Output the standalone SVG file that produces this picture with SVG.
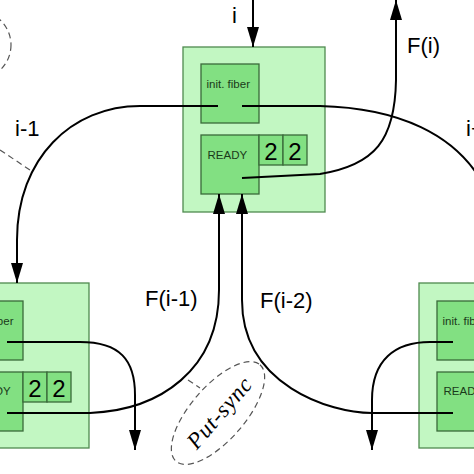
<svg xmlns="http://www.w3.org/2000/svg" width="474" height="474" viewBox="0 0 474 474">
<defs>
<style>
.outer{fill:#c2f7c2;stroke:#4f8a4f;stroke-width:1.3}
.inner{fill:#82e082;stroke:#3a6a3a;stroke-width:1.3}
.cell{fill:#82e082;stroke:#3a6a3a;stroke-width:1.3}
.lbl{font-family:"Liberation Sans",Arial,sans-serif;font-size:11.5px;fill:#1a3a1a}
.dig{font-family:"Liberation Sans",Arial,sans-serif;font-size:24px;fill:#000}
.big{font-family:"Liberation Sans",Arial,sans-serif;font-size:22px;fill:#000}
.conn{fill:none;stroke:#000;stroke-width:2}
.dash{fill:none;stroke:#555;stroke-width:1.2;stroke-dasharray:6,4}
</style>
<marker id="ah" markerUnits="userSpaceOnUse" markerWidth="20" markerHeight="12" refX="20" refY="6" orient="auto">
<path d="M0,0 L20,6 L0,12 z" fill="#000"/>
</marker>
</defs>
<rect width="474" height="474" fill="#fff"/>

<g id="node-center">
<rect class="outer" x="183" y="47" width="142" height="165"/>
<rect class="inner" x="201" y="64" width="58" height="59"/>
<text class="lbl" x="206.5" y="88">init. fiber</text>
<rect class="inner" x="201" y="135" width="58" height="59"/>
<text class="lbl" x="207.5" y="159">READY</text>
<rect class="cell" x="259" y="135" width="24" height="30"/>
<rect class="cell" x="283" y="135" width="24" height="30"/>
<text class="dig" x="271" y="159.5" text-anchor="middle">2</text>
<text class="dig" x="295" y="159.5" text-anchor="middle">2</text>
</g>

<g id="node-left">
<rect class="outer" x="-53" y="283" width="142" height="165"/>
<rect class="inner" x="-35" y="301" width="58" height="59"/>
<text class="lbl" x="-30" y="325">init. fiber</text>
<rect class="inner" x="-35" y="372" width="58" height="59"/>
<text class="lbl" x="-29" y="395">READY</text>
<rect class="cell" x="23" y="372" width="24" height="30"/>
<rect class="cell" x="47" y="372" width="24" height="30"/>
<text class="dig" x="35" y="396.5" text-anchor="middle">2</text>
<text class="dig" x="59" y="396.5" text-anchor="middle">2</text>
</g>

<g id="node-right">
<rect class="outer" x="419" y="283" width="142" height="165"/>
<rect class="inner" x="437" y="301" width="58" height="59"/>
<text class="lbl" x="442.5" y="325">init. fiber</text>
<rect class="inner" x="437" y="372" width="58" height="59"/>
<text class="lbl" x="443.5" y="395">READY</text>
</g>

<g id="connectors">
<path class="conn" d="M253,0 L253,47" marker-end="url(#ah)"/>
<path class="conn" d="M218,106 L140,106 C72,106 17,158 17,240 L17,283" marker-end="url(#ah)"/>
<path class="conn" d="M242,106 L320,106 C400,108 455,135 482,182"/>
<path class="conn" d="M242,178 L320,174 C375,165 395,140 396,80 L396,0" marker-end="url(#ah)"/>
<path class="conn" d="M7,413 L90,413 C160,410 219,370 219,290 L219,194" marker-end="url(#ah)"/>
<path class="conn" d="M453,413 L372,413 C330,413 242,385 242,300 L242,194" marker-end="url(#ah)"/>
<path class="conn" d="M7,342 L80,342 C120,342 135,360 135,395 L135,450" marker-end="url(#ah)"/>
<path class="conn" d="M453,342 L430,342 C395,342 372,360 372,400 L372,450" marker-end="url(#ah)"/>
</g>

<g id="labels">
<text class="big" x="232" y="23">i</text>
<text class="big" x="15" y="136">i-1</text>
<text class="big" x="466" y="136">i+1</text>
<text class="big" x="407" y="53">F(i)</text>
<text class="big" x="145" y="306">F(i-1)</text>
<text class="big" x="260" y="308">F(i-2)</text>
</g>

<g id="annotations">
<ellipse class="dash" cx="-25" cy="45" rx="36" ry="35"/>
<line class="dash" x1="0" y1="150" x2="30" y2="170"/>
<ellipse class="dash" cx="218" cy="413" rx="64" ry="27" transform="rotate(-49 218 413)"/>
<line class="dash" x1="188" y1="380" x2="200" y2="388"/>
<text x="225" y="418" text-anchor="middle" transform="rotate(-49 225 418)" font-family="'Liberation Serif','Times New Roman',serif" font-style="italic" font-size="23" textLength="86" lengthAdjust="spacing" fill="#000">Put-sync</text>
</g>
</svg>
